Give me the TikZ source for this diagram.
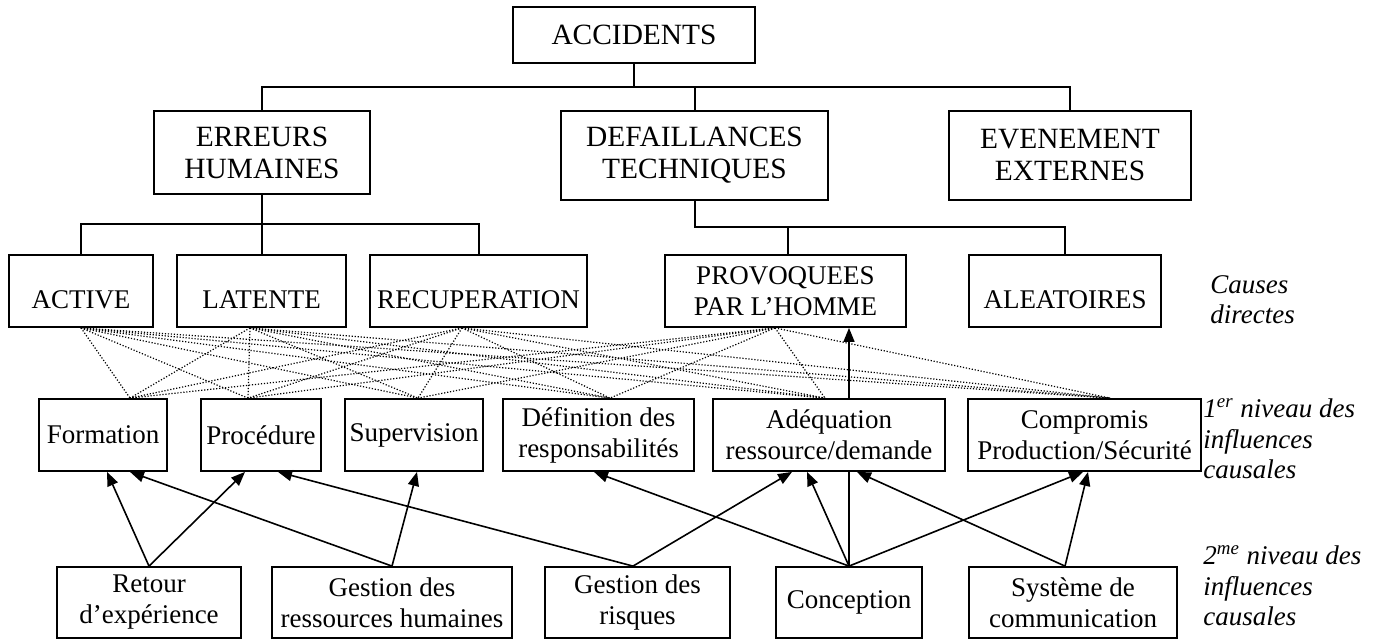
\documentclass[tikz,border=0pt]{standalone}
\usepackage{fontspec}
\setmainfont{Liberation Serif}[ItalicFont={Liberation Serif Italic}]
\usetikzlibrary{arrows.meta}

\begin{document}
\begin{tikzpicture}[
  x=0.5pt, y=-0.5pt,
  cbox/.style={draw, line width=0.9pt, align=center, inner sep=0pt, font=\fontsize{13.5}{15.5}\selectfont},
  bigbox/.style={cbox, font=\fontsize{14.7}{16}\selectfont},
  low/.style={text height=17pt, text depth=0pt},
  tree/.style={line width=1pt},
  link/.style={line width=0.8pt},
  arr/.style={line width=0.8pt, -{Triangle[length=7pt,width=5.5pt]}},
  dotline/.style={line width=0.6pt, dash pattern=on 0.6pt off 0.9pt},
  side/.style={font=\fontsize{13.5}{15.3}\selectfont\itshape, align=left, anchor=north west, inner sep=0pt}
]
  \useasboundingbox (0,0) rectangle (1377,639);

  % top of the tree
  \node[bigbox, minimum width=121pt, minimum height=28pt] (acc) at (634,35) {ACCIDENTS};
  \node[bigbox, minimum width=108pt, minimum height=41.5pt] (err) at (262,152.5) {ERREURS\\HUMAINES};
  \node[bigbox, minimum width=133.5pt, minimum height=44.5pt] (def) at (694.5,155.5) {DEFAILLANCES\\TECHNIQUES};
  \node[bigbox, minimum width=121pt, minimum height=44.5pt] (eve) at (1070,155.5) {EVENEMENT\\EXTERNES};

  % causes directes
  \node[cbox, low, minimum width=72pt, minimum height=36pt] (act) at (81,291) {ACTIVE};
  \node[cbox, low, minimum width=84.5pt, minimum height=36pt] (lat) at (261.5,291) {LATENTE};
  \node[cbox, low, minimum width=108.5pt, minimum height=36pt] (rec) at (478.5,291) {RECUPERATION};
  \node[cbox, minimum width=120.5pt, minimum height=36pt] (pro) at (785.5,291) {PROVOQUEES\\PAR L’HOMME};
  \node[cbox, low, minimum width=96pt, minimum height=36pt] (ale) at (1065,291) {ALEATOIRES};

  % 1er niveau
  \node[cbox, minimum width=64pt, minimum height=36pt] (form) at (103,435) {Formation};
  \node[cbox, minimum width=60pt, minimum height=36pt] (proc) at (261,435) {Procédure};
  \node[cbox, minimum width=69pt, minimum height=36pt] (sup) at (414,435) {Supervision};
  \node[cbox, minimum width=95.5pt, minimum height=36pt] (defr) at (598.5,435) {Définition des\\responsabilités};
  \node[cbox, minimum width=116pt, minimum height=36pt] (adq) at (829,435) {Adéquation\\ressource/demande};
  \node[cbox, minimum width=116.5pt, minimum height=36pt] (comp) at (1084.5,435) {Compromis\\Production/Sécurité};

  % 2me niveau
  \node[cbox, minimum width=92pt, minimum height=35.5pt] (ret) at (149,602.5) {Retour\\d’expérience};
  \node[cbox, minimum width=120pt, minimum height=35.5pt] (grh) at (392,602.5) {Gestion des\\ressources humaines};
  \node[cbox, minimum width=92.5pt, minimum height=35.5pt] (gri) at (637.5,602.5) {Gestion des\\risques};
  \node[cbox, minimum width=73pt, minimum height=35.5pt] (con) at (849,602.5) {Conception};
  \node[cbox, minimum width=104pt, minimum height=35.5pt] (sys) at (1073,602.5) {Système de\\communication};

  % side labels
  \node[side] (lab1) at (1210,275) {Causes\\directes};
  \node[side] (lab2) at (1203,398) {1\textsuperscript{er} niveau des\\influences\\causales};
  \node[side] (lab3) at (1203,545) {2\textsuperscript{me} niveau des\\influences\\causales};

  % tree lines
  \coordinate (bus0) at (634,87);
  \coordinate (bus1) at (262,224);
  \coordinate (bus2) at (694.5,227);
  \draw[tree] (acc.south) -- (bus0);
  \draw[tree] (err.north) |- (bus0) -| (eve.north);
  \draw[tree] (def.north) -- (def.north |- bus0);
  \draw[tree] (err.south) -- (bus1);
  \draw[tree] (act.north) |- (bus1) -| (rec.north);
  \draw[tree] (lat.north) -- (lat.north |- bus1);
  \draw[tree] (def.south) -- (bus2) -| (ale.north);
  \draw[tree] ([xshift=1.25pt]pro.north) -- ([xshift=1.25pt]pro.north |- bus2);

  % dotted links between causes and 1er niveau
  \foreach \s/\sx in {act/0, lat/-5.75, rec/-8.25, pro/-5.25}
    \foreach \t/\tx in {form/13.5, proc/-6.5, sup/2, defr/5.75, adq/-2, comp/12.75}
      \draw[dotline] ([xshift=\sx pt]\s.south) -- ([xshift=\tx pt]\t.north);

  % influences
  \draw[arr] (ret.north) -- ([xshift=2pt]form.south);
  \draw[arr] (ret.north) -- ([xshift=-8pt]proc.south);
  \draw[arr] (grh.north) -- ([xshift=13.5pt]form.south);
  \draw[arr] (grh.north) -- ([xshift=1.5pt]sup.south);
  \draw[arr] ([xshift=-2.25pt]gri.north) -- ([xshift=8.5pt]proc.south);
  \draw[arr] ([xshift=-2.25pt]gri.north) -- ([xshift=-18.5pt]adq.south);
  \draw[arr] (con.north) -- ([xshift=-2.25pt]defr.south);
  \draw[arr] (con.north) -- ([xshift=-11pt]adq.south);
  \draw[link] (con.north) -- (con.north |- adq.south);
  \draw[arr] (con.north) -- ([xshift=-0.75pt]comp.south);
  \draw[arr] ([xshift=-4pt]sys.north) -- ([xshift=14pt]adq.south);
  \draw[arr] ([xshift=-4pt]sys.north) -- ([xshift=1.75pt]comp.south);
  \draw[arr] ([xshift=10pt]adq.north) -- ([xshift=10pt]adq.north |- pro.south);
\end{tikzpicture}
\end{document}
